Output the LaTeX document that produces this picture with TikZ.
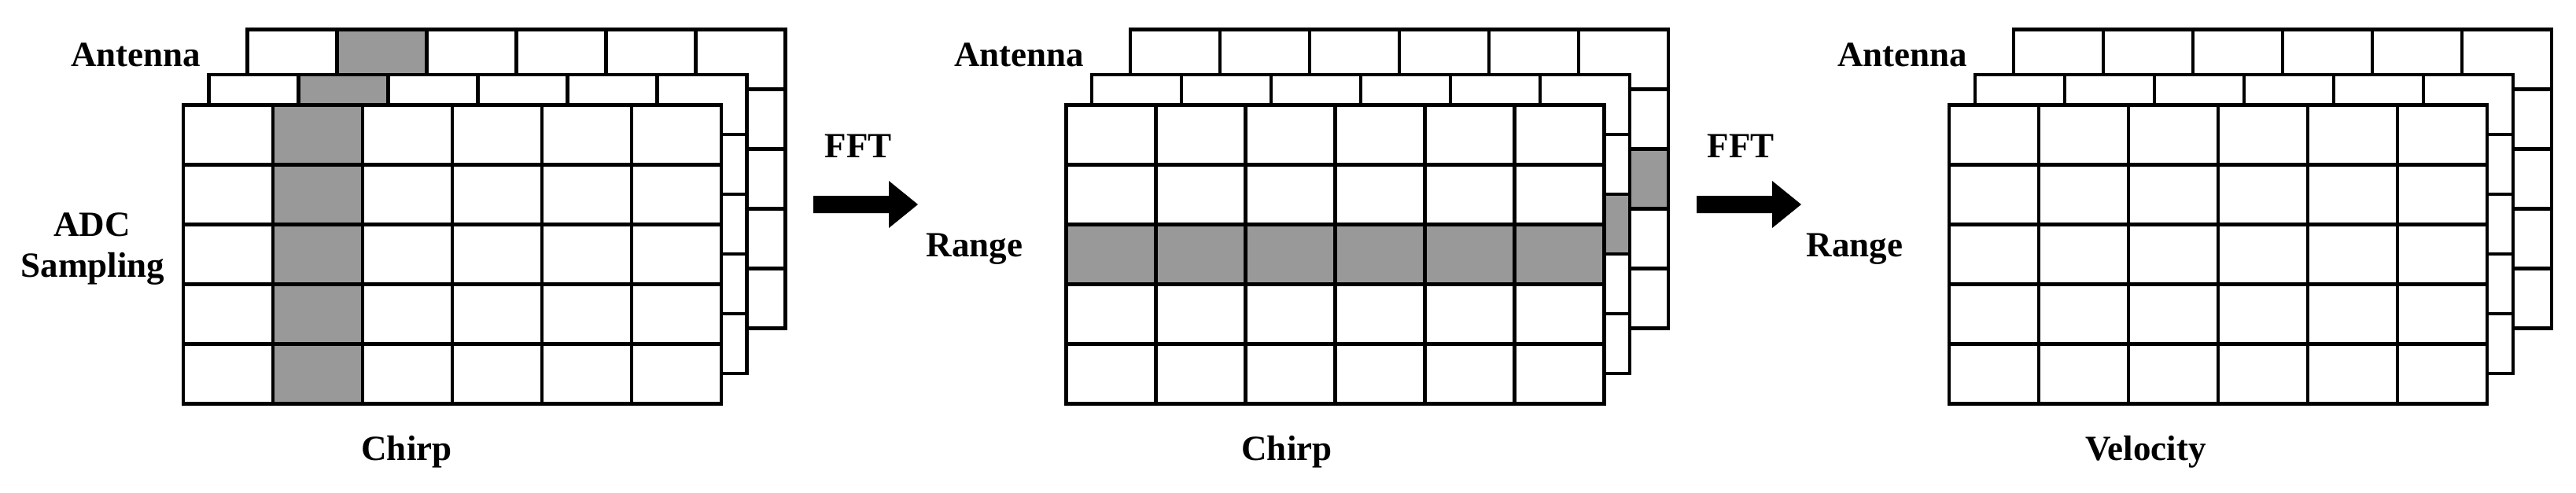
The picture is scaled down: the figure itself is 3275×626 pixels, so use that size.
\documentclass[tikz,border=0pt]{standalone}
\usepackage{fontspec}
\setmainfont{Liberation Serif}
\usepackage{tikz}

\begin{document}
\begin{tikzpicture}[x=0.01cm, y=-0.01cm,
  gridline/.style={line width=1.25pt},
  hit/.style={fill=black!40},
  lbl/.style={font=\bfseries\fontsize{12.8}{15}\selectfont, inner sep=0pt, anchor=base}]

  \useasboundingbox (0,0) rectangle (3275,626);

  % panels: back, middle and front layer
  \foreach \p in {0,1,2} {
    \foreach \dx/\dy in {81.5/-96, 32.5/-38.5, 0/0} {
      \begin{scope}[shift={(233+1122.6*\p+\dx, 133.5+\dy)}]
        \fill[white] (0,0) rectangle (684,380);
        \ifnum\p=0 \fill[hit] (114,0) rectangle (228,380); \fi
        \ifnum\p=1 \fill[hit] (0,152) rectangle (684,228); \fi
        \foreach \i in {1,...,5}
          \draw[gridline] (114*\i,0) -- (114*\i,380);
        \foreach \j in {1,...,4}
          \draw[gridline] (0,76*\j) -- (684,76*\j);
        \draw[gridline] (0,0) rectangle (684,380);
      \end{scope}
    }
  }

  \node[lbl, anchor=base east] (ant1) at (256,84) {Antenna};
  \node[lbl, anchor=base east] (ant2) at (1379,84) {Antenna};
  \node[lbl, anchor=base east] (ant3) at (2502,84) {Antenna};

  \node[lbl] (adc) at (117,300) {ADC};
  \node[lbl] (sampling) at (118,352) {Sampling};
  \node[lbl] (range2) at (1239,326) {Range};
  \node[lbl] (range3) at (2358,326) {Range};

  \node[lbl] (chirp1) at (517,585) {Chirp};
  \node[lbl] (chirp2) at (1636,585) {Chirp};
  \node[lbl] (velocity) at (2728,585) {Velocity};

  \node[lbl] (fft1) at (1091,200) {FFT};
  \node[lbl] (fft2) at (2213,200) {FFT};

  % block arrows
  \coordinate (arr1) at (1034,260);
  \coordinate (arr2) at (2157,260);
  \foreach \a in {arr1,arr2}
    \fill (\a) ++(0,-11) -- ++(96,0) -- ++(0,-19) -- ++(37,30) -- ++(-37,30)
      -- ++(0,-19) -- ++(-96,0) -- cycle;
\end{tikzpicture}
\end{document}
